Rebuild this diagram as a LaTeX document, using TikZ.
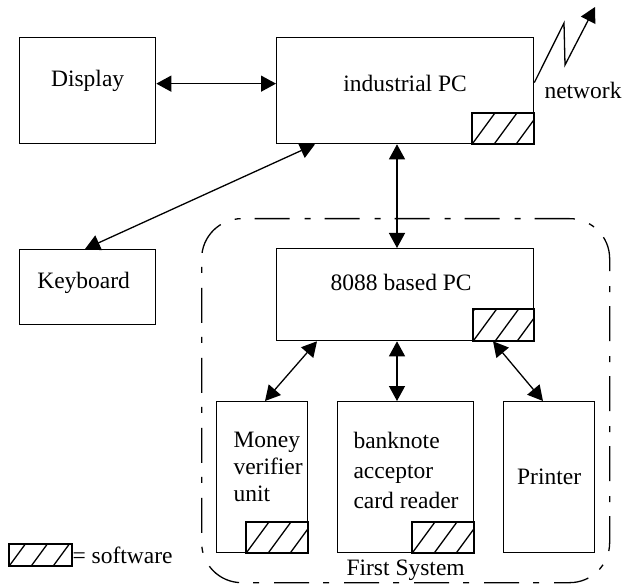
\documentclass[tikz,border=0pt]{standalone}
\usepackage{fontspec}
\setmainfont{Liberation Serif}
\usetikzlibrary{arrows.meta,calc}

\tikzset{
  every node/.style={font=\fontsize{23.5pt}{28pt}\selectfont},
  box/.style={draw, line width=1.3pt, inner sep=0pt, anchor=north west},
  swbox/.style={draw, line width=1.3pt, inner sep=0pt, anchor=south east},
  hatchline/.style={line width=1.3pt},
  link/.style={line width=1.3pt,
    {Triangle[length=15pt,width=16pt]}-{Triangle[length=15pt,width=16pt]}},
  netlink/.style={line width=1.3pt, -{Triangle[length=15pt,width=16pt]}},
  sysframe/.style={draw, line width=1.3pt, rounded corners=40pt, inner sep=0pt,
    anchor=north west, dash pattern=on 35pt off 14pt on 6pt off 15pt},
}

% diagonal hatching inside a software marker node
\newcommand\swfill[1]{%
  \begin{scope}
    \clip (#1.south west) rectangle (#1.north east);
    \foreach \k in {-2,...,3}
      \draw[hatchline] ($(#1.south west)+(\k*22,0)$) -- ++(33,-45);
  \end{scope}
  \draw[line width=1.3pt] (#1.south west) rectangle (#1.north east);
}

\begin{document}
\begin{tikzpicture}[x=1pt,y=-1pt]
  \useasboundingbox (0,0) rectangle (626,585);

  % system frame
  \node[sysframe, minimum width=408pt, minimum height=364pt] (sys) at (201,218) {};
  \node[anchor=center] (systxt) at ($(sys.south)+(0,-13)$) {First System};

  % top level units
  \node[box, minimum width=136pt, minimum height=106pt] (disp) at (19,37) {};
  \node (disptxt) at ($(disp.center)+(0,-10)$) {Display};

  \node[box, minimum width=257pt, minimum height=106pt] (pc) at (276,37) {};
  \node (pctxt) at ($(pc.center)+(0,-7)$) {industrial PC};
  \node[swbox, minimum width=61pt, minimum height=30pt] (pcsw) at (pc.south east) {};
  \swfill{pcsw}

  \node[box, minimum width=136pt, minimum height=75pt] (kb) at (19,249) {};
  \node (kbtxt) at ($(kb.center)+(-4,-4)$) {Keyboard};

  % first system
  \node[box, minimum width=257pt, minimum height=92pt] (cpu) at (276,248) {};
  \node (cputxt) at ($(cpu.center)+(-4,-12)$) {8088 based PC};
  \node[swbox, minimum width=60pt, minimum height=31pt] (cpusw) at (cpu.south east) {};
  \swfill{cpusw}

  \node[box, minimum width=91pt, minimum height=151pt] (money) at (216,401) {};
  \node[anchor=west, align=left, font=\fontsize{23.5pt}{27pt}\selectfont] (moneytxt) at (230,467) {Money\\verifier\\unit};
  \node[swbox, minimum width=61pt, minimum height=30pt] (moneysw) at (money.south east) {};
  \swfill{moneysw}

  \node[box, minimum width=136pt, minimum height=151pt] (bank) at (337,401) {};
  \node[anchor=west, align=left, font=\fontsize{23.5pt}{30pt}\selectfont] (banktxt) at (350,470) {banknote\\acceptor\\card reader};
  \node[swbox, minimum width=61pt, minimum height=30pt] (banksw) at (bank.south east) {};
  \swfill{banksw}

  \node[box, minimum width=91pt, minimum height=151pt] (prn) at (503,401) {};
  \node (prntxt) at (prn.center) {Printer};

  % connections
  \draw[link] ([yshift=7pt]disp.east) -- ([yshift=7pt]disp.east -| pc.west);
  \draw[link] ([xshift=39pt]pc.south west) -- ([xshift=66pt]kb.north west);
  \draw[link] ([xshift=121pt]pc.south west) -- ([xshift=121pt]cpu.north west);
  \draw[link] ([xshift=41pt]cpu.south west) -- ([xshift=49pt]money.north west);
  \draw[link] ([xshift=121pt]cpu.south west) -- ([xshift=60pt]bank.north west);
  \draw[link] ([xshift=217pt]cpu.south west) -- ([xshift=40pt]prn.north west);

  % network link
  \coordinate (net) at (595,7);
  \draw[netlink] ([yshift=8pt]pc.east) -- (564,23) -- (565,65) -- (net);
  \node (nettxt) at (583,90) {network};

  % legend
  \node[box, minimum width=62pt, minimum height=21pt] (legsw) at (9,544) {};
  \swfill{legsw}
  \node[anchor=west, inner sep=0pt] (legtxt) at (legsw.east) {= software};
\end{tikzpicture}
\end{document}
